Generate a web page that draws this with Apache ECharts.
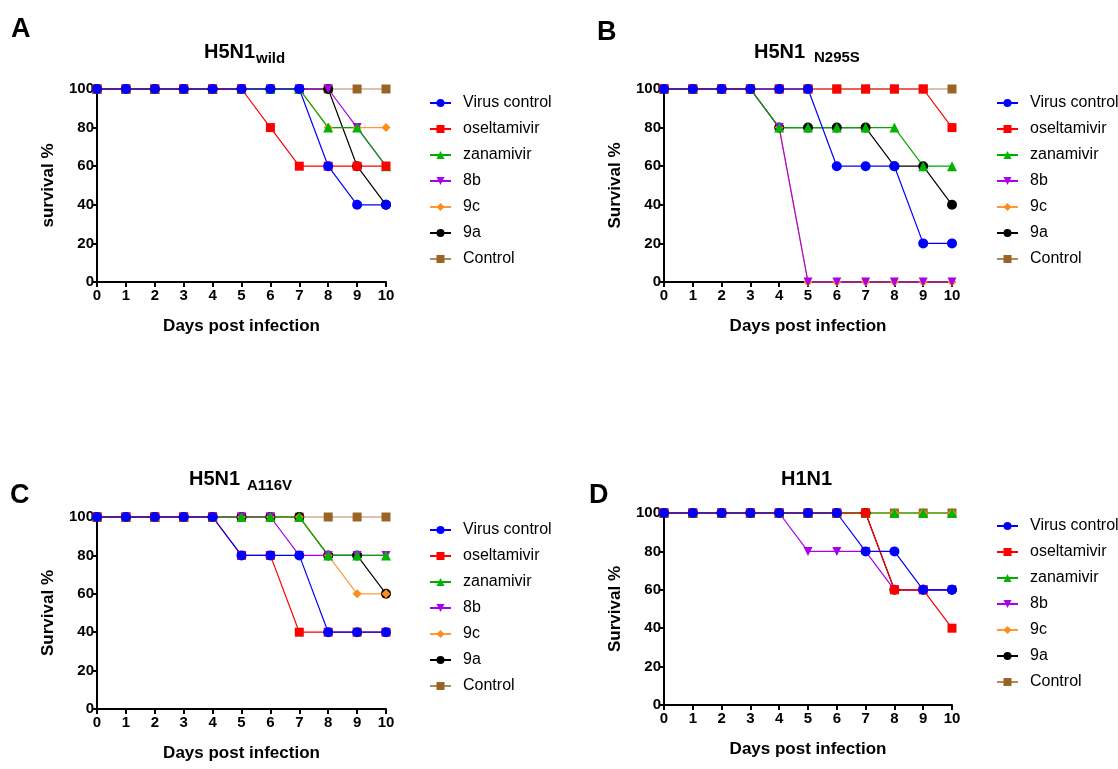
<!DOCTYPE html>
<html>
<head>
<meta charset="utf-8">
<script src="https://cdn.jsdelivr.net/npm/echarts@6/dist/echarts.min.js"></script>
<style>
html,body{margin:0;padding:0;background:#fff;}
#chart{width:1118px;height:769px;}
</style>
</head>
<body>
<div id="chart"></div>
<script>
// ---- data ----
const days = ['0','1','2','3','4','5','6','7','8','9','10'];
const yTicks = [0, 20, 40, 60, 80, 100];
const seriesNames = ['Virus control','oseltamivir','zanamivir','8b','9c','9a','Control'];
const panelLetters = ['A','B','C','D'];
const panelTitles = ['H5N1','H5N1','H5N1','H1N1'];
const panelSubs = ['wild','N295S','A116V',''];
const yNames = ['survival %','Survival %','Survival %','Survival %'];

// Panel A: H5N1 wild
const A_virus = [100,100,100,100,100,100,100,100,60,40,40];
const A_osel  = [100,100,100,100,100,100,80,60,60,60,60];
const A_zana  = [100,100,100,100,100,100,100,100,80,80,60];
const A_8b    = [100,100,100,100,100,100,100,100,100,80,60];
const A_9c    = [100,100,100,100,100,100,100,100,80,80,80];
const A_9a    = [100,100,100,100,100,100,100,100,100,60,40];
const A_ctrl  = [100,100,100,100,100,100,100,100,100,100,100];
// Panel B: H5N1 N295S
const B_virus = [100,100,100,100,100,100,60,60,60,20,20];
const B_osel  = [100,100,100,100,100,100,100,100,100,100,80];
const B_zana  = [100,100,100,100,80,80,80,80,80,60,60];
const B_8b    = [100,100,100,100,80,0,0,0,0,0,0];
const B_9c    = [100,100,100,100,80,0,0,0,0,0,0];
const B_9a    = [100,100,100,100,80,80,80,80,60,60,40];
const B_ctrl  = [100,100,100,100,100,100,100,100,100,100,100];
// Panel C: H5N1 A116V
const C_virus = [100,100,100,100,100,80,80,80,40,40,40];
const C_osel  = [100,100,100,100,100,80,80,40,40,40,40];
const C_zana  = [100,100,100,100,100,100,100,100,80,80,80];
const C_8b    = [100,100,100,100,100,100,100,80,80,80,80];
const C_9c    = [100,100,100,100,100,100,100,100,80,60,60];
const C_9a    = [100,100,100,100,100,100,100,100,80,80,60];
const C_ctrl  = [100,100,100,100,100,100,100,100,100,100,100];
// Panel D: H1N1
const D_virus = [100,100,100,100,100,100,100,80,80,60,60];
const D_osel  = [100,100,100,100,100,100,100,100,60,60,40];
const D_zana  = [100,100,100,100,100,100,100,100,100,100,100];
const D_8b    = [100,100,100,100,100,80,80,80,60,60,60];
const D_9c    = [100,100,100,100,100,100,100,100,100,100,100];
const D_9a    = [100,100,100,100,100,100,100,100,60,60,60];
const D_ctrl  = [100,100,100,100,100,100,100,100,100,100,100];

const panelData = [
  [A_virus, A_osel, A_zana, A_8b, A_9c, A_9a, A_ctrl],
  [B_virus, B_osel, B_zana, B_8b, B_9c, B_9a, B_ctrl],
  [C_virus, C_osel, C_zana, C_8b, C_9c, C_9a, C_ctrl],
  [D_virus, D_osel, D_zana, D_8b, D_9c, D_9a, D_ctrl]
];

// ---- styles ----
const FONT = '"Liberation Sans", Arial, Helvetica, sans-serif';
const colors = ['#0000FF','#FF0000','#00B400','#A800E8','#FF8C1A','#000000','#9A6424'];
const lineColors = ['#0000FF','#FF0000','#00A800','#A800E8','#FF9A3A','#000000','#B08A5A'];
const symbols = ['circle','rect','triangle','path://M0,0 L10,0 L5,10 Z','diamond','circle','rect'];
const symSizes = [10,9,10,9,9,10,9];

const grids = [
  {left:97, top:89, width:289, height:193},
  {left:664, top:89, width:288, height:193},
  {left:97, top:517, width:289, height:192},
  {left:664, top:513, width:288, height:192}
];
const legendPos = [
  {left:429, top:95},
  {left:996, top:95},
  {left:429, top:522},
  {left:996, top:518}
];
const titlePos = [
  {x:204, y:52, sx:256, sy:58.5},
  {x:754, y:52, sx:814, sy:58},
  {x:189, y:479, sx:247, sy:486},
  {x:781, y:479, sx:0, sy:0}
];
const letterPos = [
  {x:11, y:30}, {x:597, y:33}, {x:10, y:496}, {x:589, y:496}
];

const xAxes = [], yAxes = [], series = [], legends = [], graphics = [];
for (let p = 0; p < 4; p++) {
  xAxes.push({
    gridIndex: p, type: 'category', data: days, boundaryGap: false,
    axisLine: {show: true, lineStyle: {color: '#000', width: 2}},
    axisTick: {show: true, length: 5, lineStyle: {color: '#000', width: 2}, interval: 0},
    axisLabel: {color: '#000', fontWeight: 'bold', fontSize: 15, fontFamily: FONT, margin: 6, interval: 0},
    splitLine: {show: false},
    name: 'Days post infection', nameLocation: 'middle', nameGap: 36,
    nameTextStyle: {color: '#000', fontWeight: 'bold', fontSize: 17, fontFamily: FONT}
  });
  yAxes.push({
    gridIndex: p, type: 'value', min: yTicks[0], max: yTicks[yTicks.length-1], interval: 20,
    axisLine: {show: true, lineStyle: {color: '#000', width: 2}},
    axisTick: {show: true, length: 5, lineStyle: {color: '#000', width: 2}},
    axisLabel: {color: '#000', fontWeight: 'bold', fontSize: 15, fontFamily: FONT, margin: 3},
    splitLine: {show: false},
    name: yNames[p], nameLocation: 'middle', nameGap: 40,
    nameTextStyle: {color: '#000', fontWeight: 'bold', fontSize: 17, fontFamily: FONT}
  });
  // draw in reverse legend order so Virus control is on top
  for (let s = seriesNames.length - 1; s >= 0; s--) {
    series.push({
      name: seriesNames[s], type: 'line', xAxisIndex: p, yAxisIndex: p,
      data: panelData[p][s],
      symbol: symbols[s], symbolSize: symSizes[s], showSymbol: true,
      clip: false, animation: false,
      itemStyle: {color: colors[s]},
      lineStyle: {color: lineColors[s], width: 1.2}
    });
  }
  legends.push({
    orient: 'vertical', left: legendPos[p].left, top: legendPos[p].top,
    padding: 0,
    data: seriesNames, itemWidth: 21, itemHeight: 10, itemGap: 10,
    selectedMode: false,
    textStyle: {color: '#000', fontSize: 16, fontFamily: FONT, lineHeight: 16, padding: [0,0,0,7]}
  });
  graphics.push({
    type: 'text', x: letterPos[p].x, y: letterPos[p].y,
    style: {text: panelLetters[p], font: 'bold 27px ' + FONT, fill: '#000', verticalAlign: 'middle', align: 'left'}
  });
  graphics.push({
    type: 'text', x: titlePos[p].x, y: titlePos[p].y,
    style: {text: panelTitles[p], font: 'bold 20px ' + FONT, fill: '#000', verticalAlign: 'middle', align: 'left'}
  });
  if (panelSubs[p]) {
    graphics.push({
      type: 'text', x: titlePos[p].sx, y: titlePos[p].sy,
      style: {text: panelSubs[p], font: 'bold 15px ' + FONT, fill: '#000', verticalAlign: 'middle', align: 'left'}
    });
  }
}

const chart = echarts.init(document.getElementById('chart'), null, {renderer: 'canvas'});
chart.setOption({
  animation: false,
  backgroundColor: '#fff',
  grid: grids,
  xAxis: xAxes,
  yAxis: yAxes,
  legend: legends,
  series: series,
  graphic: graphics
});
</script>
</body>
</html>
